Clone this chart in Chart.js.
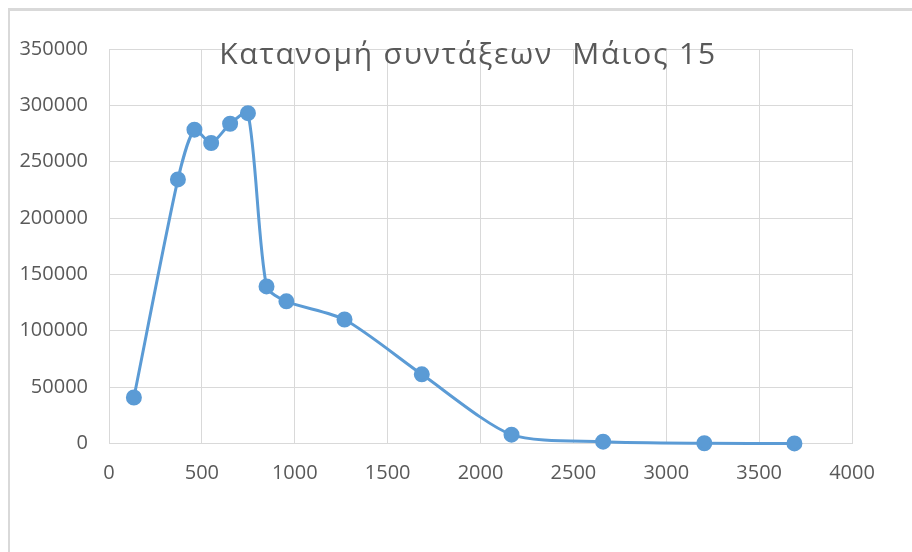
<!DOCTYPE html>
<html>
<head>
<meta charset="utf-8">
<script src="https://cdn.jsdelivr.net/npm/chart.js@4/dist/chart.umd.min.js"></script>
<style>
  html, body { margin: 0; padding: 0; background: #ffffff; }
  #wrap { position: relative; width: 912px; height: 552px; overflow: hidden; }
  #frame { position: absolute; left: 8px; top: 8px; width: 920px; height: 560px;
           border-left: 2px solid #d9d9d9; border-top: 3px solid #d9d9d9; box-sizing: border-box; }
  #c { position: absolute; left: 0; top: 0; }
  #title { position: absolute; left: 0; width: 936px; top: 38px; text-align: center; line-height: 30px;
           font-family: "Open Sans", sans-serif; font-size: 30px; letter-spacing: 1.8px; color: #595959; white-space: pre; }
</style>
</head>
<body>
<div id="wrap">
  <div id="frame"></div>
  <canvas id="c" width="912" height="552"></canvas>
  <div id="title">Κατανομή συντάξεων  Μάιος 15</div>
</div>
<script>
const titleText = "Κατανομή συντάξεων  Μάιος 15";
const xValues = [134, 371, 460, 550, 652, 748, 848, 955, 1268, 1684, 2167, 2660, 3205, 3690];
const yValues = [40800, 234300, 278400, 266600, 283700, 293100, 139400, 126100, 110000, 61400, 7800, 1600, 200, 100];
const xTicks = [0, 500, 1000, 1500, 2000, 2500, 3000, 3500, 4000];
const yTicks = [0, 50000, 100000, 150000, 200000, 250000, 300000, 350000];

const points = xValues.map((x, i) => ({ x: x, y: yValues[i] }));
const grey = '#d9d9d9';
const textGrey = '#595959';

new Chart(document.getElementById('c'), {
  type: 'scatter',
  data: {
    datasets: [{
      label: titleText,
      data: points,
      showLine: true,
      borderColor: '#5b9bd5',
      backgroundColor: '#5b9bd5',
      borderWidth: 3,
      pointRadius: 6.5,
      pointHoverRadius: 6.5,
      tension: 0.25,
      clip: false
    }]
  },
  options: {
    responsive: false,
    animation: false,
    devicePixelRatio: 1,
    layout: { padding: { left: 0, right: 60, top: 49, bottom: 0 } },
    plugins: { legend: { display: false }, title: { display: false }, tooltip: { enabled: false } },
    scales: {
      x: {
        type: 'linear',
        min: xTicks[0], max: xTicks[xTicks.length - 1],
        afterBuildTicks: s => { s.ticks = xTicks.map(v => ({ value: v })); },
        afterFit: s => { s.height = 108.5; },
        grid: { color: grey, lineWidth: 1, drawTicks: false },
        border: { color: grey, width: 1 },
        ticks: { color: textGrey, padding: 18, font: { family: 'Open Sans', size: 20 },
                 callback: v => String(v) }
      },
      y: {
        type: 'linear',
        min: yTicks[0], max: yTicks[yTicks.length - 1],
        afterBuildTicks: s => { s.ticks = yTicks.map(v => ({ value: v })); },
        afterFit: s => { s.width = 109; },
        grid: { color: grey, lineWidth: 1, drawTicks: false },
        border: { display: false },
        ticks: { color: textGrey, padding: 21, font: { family: 'Open Sans', size: 20 },
                 callback: v => String(v) }
      }
    }
  }
});
</script>
</body>
</html>
